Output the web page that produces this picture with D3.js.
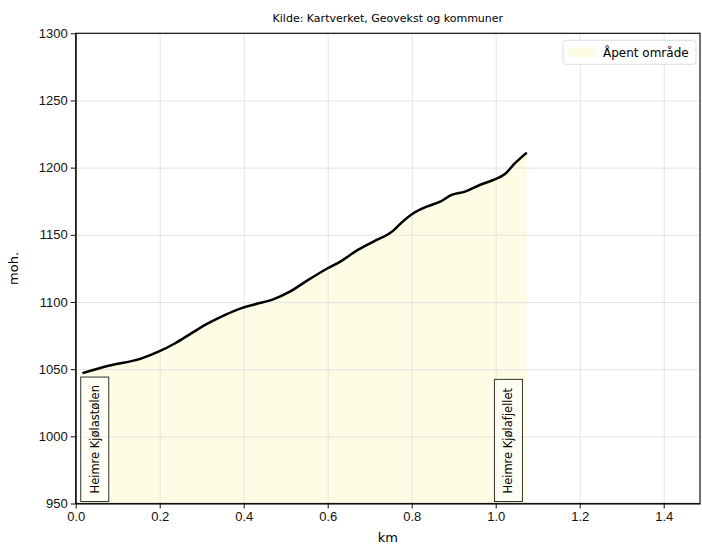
<!DOCTYPE html>
<html>
<head>
<meta charset="utf-8">
<script src="https://cdn.jsdelivr.net/npm/d3@7"></script>
<style>
  body { margin: 0; background: #fff; }
  svg { font-family: "DejaVu Sans", sans-serif; }
  .grid line { stroke: #e4e4e4; stroke-width: 1; }
  .grid path { display: none; }
  .axis text { font-size: 13px; fill: #111; }
  .axis path, .axis line { stroke: #111; }
</style>
</head>
<body>
<div id="chart-area"></div>
<script>
// profile data (km, moh.)
const distKm = [0.016, 0.078, 0.157, 0.197, 0.237, 0.276, 0.316, 0.356, 0.395, 0.43, 0.47, 0.51,
  0.55, 0.6, 0.63, 0.669, 0.709, 0.756, 0.772, 0.804, 0.836, 0.868, 0.895, 0.927, 0.962, 0.994,
  1.022, 1.046, 1.074]
const heights = [1047, 1052.5, 1058, 1063, 1069.3, 1076.8, 1084.2, 1090.4, 1095.4, 1098.5, 1102, 1107.7,
  1115.7, 1125.1, 1130.1, 1138.2, 1145, 1153.1, 1158, 1166.1, 1171, 1174.7, 1179.7, 1182.1, 1187.1, 1190.8,
  1195.3, 1203.3, 1211.2]

const placeNames = ['Heimre Kjølastølen', 'Heimre Kjølafjellet']
const placeKm = [0.012, 0.997]

const xTicks = [0, 0.2, 0.4, 0.6, 0.8, 1.0, 1.2, 1.4]
const yTicks = [950, 1000, 1050, 1100, 1150, 1200, 1250, 1300]

const margin = { left: 75.7, right: 2, top: 33.3, bottom: 42.5 }
const W = 702, H = 546
const width = W - margin.left - margin.right,
  height = H - margin.top - margin.bottom

let svg = d3.select('#chart-area')
  .append('svg')
  .attr('width', W)
  .attr('height', H)

let g = svg.append('g')
  .attr('transform', 'translate(' + margin.left + ',' + margin.top + ')')

let x = d3.scaleLinear()
  .domain([0, width / 420])
  .range([0, width])

let y = d3.scaleLinear()
  .domain([950, 1300])
  .range([height, 0])

const points = distKm.map((d, i) => ({ km: d, h: heights[i] }))

// open area fill
let area = d3.area()
  .x(d => x(d.km))
  .y0(y(950))
  .y1(d => y(d.h))
g.append('path')
  .datum(points)
  .attr('fill', '#fdfce4')
  .attr('d', area)

// grid
g.append('g')
  .attr('class', 'grid')
  .attr('transform', 'translate(0,' + height + ')')
  .call(d3.axisBottom(x).tickValues(xTicks).tickSize(-height).tickFormat(''))
g.append('g')
  .attr('class', 'grid')
  .call(d3.axisLeft(y).tickValues(yTicks).tickSize(-width).tickFormat(''))

// profile line
let line = d3.line()
  .x(d => x(d.km))
  .y(d => y(d.h))
  .curve(d3.curveMonotoneX)
g.append('path')
  .datum(points)
  .attr('fill', 'none')
  .attr('stroke', '#000')
  .attr('stroke-width', 2.5)
  .attr('stroke-linejoin', 'round')
  .attr('d', line)

// place labels
placeNames.forEach((name, i) => {
  let lg = g.append('g')
    .attr('transform', 'translate(' + (x(placeKm[i]) + 14) + ',' + (height - 10) + ') rotate(-90)')
  let txt = lg.append('text')
    .attr('x', 0)
    .attr('y', 0)
    .attr('dy', '0.35em')
    .attr('font-size', '11.5px')
    .attr('fill', '#000')
    .text(name)
  let bb = txt.node().getBBox()
  lg.insert('rect', 'text')
    .attr('x', -8)
    .attr('y', -14)
    .attr('width', bb.width + 16)
    .attr('height', 28)
    .attr('fill', '#fff')
    .attr('fill-opacity', 0.5)
    .attr('stroke', '#333')
    .attr('stroke-width', 1)
})

// axes
g.append('g')
  .attr('class', 'axis')
  .attr('transform', 'translate(0,' + height + ')')
  .call(d3.axisBottom(x).tickValues(xTicks).tickFormat(d3.format('.1f')).tickSize(5).tickSizeOuter(0))
g.append('g')
  .attr('class', 'axis')
  .call(d3.axisLeft(y).tickValues(yTicks).tickFormat(d3.format('d')).tickSize(5).tickSizeOuter(0))

// frame
g.append('rect')
  .attr('width', width)
  .attr('height', height)
  .attr('fill', 'none')
  .attr('stroke', '#111')
  .attr('stroke-width', 1.2)

// labels
g.append('text')
  .attr('x', width / 2)
  .attr('y', height + 39)
  .attr('text-anchor', 'middle')
  .attr('font-size', '13px')
  .text('km')

g.append('text')
  .attr('transform', 'rotate(-90)')
  .attr('x', -height / 2)
  .attr('y', -58)
  .attr('text-anchor', 'middle')
  .attr('font-size', '13px')
  .text('moh.')

g.append('text')
  .attr('x', width / 2)
  .attr('y', -11)
  .attr('text-anchor', 'middle')
  .attr('font-size', '11px')
  .text('Kilde: Kartverket, Geovekst og kommuner')

// legend
let legend = g.append('g')
  .attr('transform', 'translate(' + (width - 137) + ',7)')
legend.append('rect')
  .attr('width', 133)
  .attr('height', 24)
  .attr('rx', 3)
  .attr('fill', '#fff')
  .attr('stroke', '#ddd')
legend.append('rect')
  .attr('x', 5)
  .attr('y', 7)
  .attr('width', 27)
  .attr('height', 10)
  .attr('fill', '#fdfce4')
legend.append('text')
  .attr('x', 40)
  .attr('y', 16.5)
  .attr('font-size', '12px')
  .text('Åpent område')
</script>
</body>
</html>
